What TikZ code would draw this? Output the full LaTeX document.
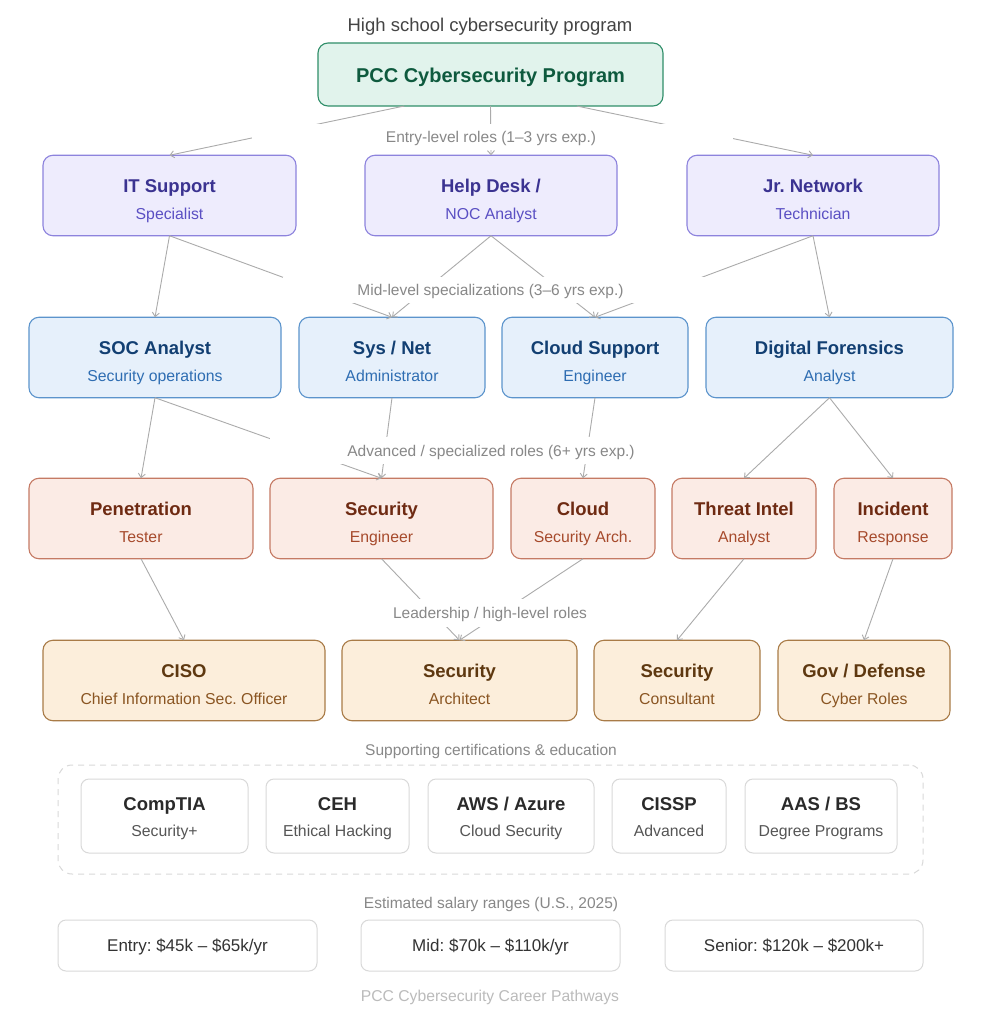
\documentclass[tikz,border=0pt]{standalone}
\usepackage{fontspec}
\setmainfont{Liberation Sans}
\frenchspacing
\usetikzlibrary{arrows.meta,calc}
\definecolor{pccfill}{HTML}{E1F3EC}
\definecolor{pccdraw}{HTML}{2F8E69}
\definecolor{pcct}{HTML}{0E5A3E}
\definecolor{entfill}{HTML}{EEECFD}
\definecolor{entdraw}{HTML}{8D83DD}
\definecolor{entt}{HTML}{3B3391}
\definecolor{ents}{HTML}{5A4FC3}
\definecolor{midfill}{HTML}{E6F0FB}
\definecolor{middraw}{HTML}{5C94CC}
\definecolor{midt}{HTML}{123F72}
\definecolor{mids}{HTML}{2E6DB2}
\definecolor{advfill}{HTML}{FBEBE5}
\definecolor{advdraw}{HTML}{C57A64}
\definecolor{advt}{HTML}{6E2A12}
\definecolor{advs}{HTML}{A64A2C}
\definecolor{ldrfill}{HTML}{FCEEDB}
\definecolor{ldrdraw}{HTML}{A97B47}
\definecolor{ldrt}{HTML}{5E3810}
\definecolor{ldrs}{HTML}{8A5522}
\definecolor{certdraw}{HTML}{D9D9D9}
\definecolor{certt}{HTML}{2A2A2A}
\definecolor{certs}{HTML}{555555}
\definecolor{connc}{HTML}{ABABAB}
\definecolor{lblc}{HTML}{888888}
\definecolor{headc}{HTML}{444444}
\definecolor{footc}{HTML}{BBBBBB}
\definecolor{salt}{HTML}{333333}
\tikzset{
  box/.style={rounded corners=10pt, line width=1.1pt, inner sep=0pt, outer sep=0pt},
  entbox/.style={box, fill=entfill, draw=entdraw},
  midbox/.style={box, fill=midfill, draw=middraw},
  advbox/.style={box, fill=advfill, draw=advdraw},
  ldrbox/.style={box, fill=ldrfill, draw=ldrdraw},
  pccbox/.style={box, fill=pccfill, draw=pccdraw},
  certbox/.style={rounded corners=8pt, line width=1pt, draw=certdraw, fill=white, inner sep=0pt, outer sep=0pt},
  salbox/.style={rounded corners=8pt, line width=1pt, draw=certdraw, fill=white, inner sep=0pt, outer sep=0pt, font=\fontsize{17}{19}\selectfont, text=salt, text height=12.2pt, text depth=0pt},
  ttl/.style={font=\fontsize{18.5}{20}\selectfont\bfseries, text height=13.2pt, text depth=0pt, inner sep=0pt},
  subtxt/.style={font=\fontsize{15.8}{18}\selectfont, text height=11.3pt, text depth=0pt, inner sep=0pt},
  lbl/.style={font=\fontsize{15.5}{18}\selectfont, text=lblc, text height=11.1pt, text depth=0pt, inner sep=0pt},
  mask/.style={fill=white, inner sep=0pt},
  conn/.style={draw=connc, line width=0.9pt, -{Straight Barb[length=4pt,width=7pt]}},
}
\newcommand\mkrole[7]{%
  \node[#5box, minimum width={(#3-#2)*1pt}, minimum height=80.5pt] (#1) at ({(#2+#3)/2},{#4+40.5}) {};
  \node[ttl, text=#5t] (#1-t) at ({(#2+#3)/2},{#4+30.5}) {#6};
  \node[subtxt, text=#5s] (#1-s) at ({(#2+#3)/2},{#4+58.5}) {#7};
}
\newcommand\mkcert[5]{%
  \node[certbox, minimum width={(#3-#2)*1pt}, minimum height=74pt] (#1) at ({(#2+#3)/2},816) {};
  \node[ttl, text=certt] (#1-t) at ({(#2+#3)/2},804) {#4};
  \node[subtxt, text=certs] (#1-s) at ({(#2+#3)/2},831) {#5};
}
\begin{document}
\begin{tikzpicture}[x=1pt,y=-1pt]
\useasboundingbox[fill=white] (0,0) rectangle (981,1024);

\node[font=\fontsize{18.5}{20}\selectfont, text=headc, text height=13.2pt, text depth=0pt, inner sep=0pt] (head) at (490,25) {High school cybersecurity program};

\node[pccbox, minimum width=345pt, minimum height=63pt] (pcc) at (490.5,74.5) {};
\node[font=\fontsize{20}{22}\selectfont\bfseries, text=pcct, text height=14.3pt, text depth=0pt, inner sep=0pt] (pcc-t) at (490.5,75) {PCC Cybersecurity Program};

% entry
\mkrole{it}{43}{296}{155}{ent}{IT Support}{Specialist}
\mkrole{hd}{365}{617}{155}{ent}{Help Desk /}{NOC Analyst}
\mkrole{jn}{687}{939}{155}{ent}{Jr. Network}{Technician}
% mid
\mkrole{soc}{29}{281}{317}{mid}{SOC Analyst}{Security operations}
\mkrole{sys}{299}{485}{317}{mid}{Sys / Net}{Administrator}
\mkrole{cs}{502}{688}{317}{mid}{Cloud Support}{Engineer}
\mkrole{df}{706}{953}{317}{mid}{Digital Forensics}{Analyst}
% advanced
\mkrole{pt}{29}{253}{478}{adv}{Penetration}{Tester}
\mkrole{se}{270}{493}{478}{adv}{Security}{Engineer}
\mkrole{ca}{511}{655}{478}{adv}{Cloud}{Security Arch.}
\mkrole{ti}{672}{816}{478}{adv}{Threat Intel}{Analyst}
\mkrole{ir}{834}{952}{478}{adv}{Incident}{Response}
% leadership
\mkrole{ciso}{43}{325}{640}{ldr}{CISO}{Chief Information Sec. Officer}
\mkrole{sa}{342}{577}{640}{ldr}{Security}{Architect}
\mkrole{sc}{594}{760}{640}{ldr}{Security}{Consultant}
\mkrole{gd}{778}{950}{640}{ldr}{Gov / Defense}{Cyber Roles}

% connectors
\draw[conn] ($(pcc.south west)!0.25!(pcc.south east)$) -- (it.north);
\draw[conn] (pcc.south) -- (hd.north);
\draw[conn] ($(pcc.south west)!0.75!(pcc.south east)$) -- (jn.north);
\draw[conn] (it.south) -- (soc.north);
\draw[conn] (it.south) -- (sys.north);
\draw[conn] (hd.south) -- (sys.north);
\draw[conn] (hd.south) -- (cs.north);
\draw[conn] (jn.south) -- (cs.north);
\draw[conn] (jn.south) -- (df.north);
\draw[conn] (soc.south) -- (pt.north);
\draw[conn] (soc.south) -- (se.north);
\draw[conn] (sys.south) -- (se.north);
\draw[conn] (cs.south) -- (ca.north);
\draw[conn] (df.south) -- (ti.north);
\draw[conn] (df.south) -- (ir.north);
\draw[conn] (pt.south) -- (ciso.north);
\draw[conn] (se.south) -- (sa.north);
\draw[conn] (ca.south) -- (sa.north);
\draw[conn] (ti.south) -- (sc.north);
\draw[conn] (ir.south) -- (gd.north);

% tier labels (white backing boxes, then text)
\node[mask, minimum width=481pt, minimum height=26pt] (m1) at (492.5,137) {};
\node[mask, minimum width=424pt, minimum height=26pt] (m2) at (495,290) {};
\node[mask, minimum width=442pt, minimum height=27pt] (m3) at (491,450.5) {};
\node[mask, minimum width=236pt, minimum height=28pt] (m4) at (490,613) {};
\node[lbl] (l1) at (491,137) {Entry-level roles (1–3 yrs exp.)};
\node[lbl] (l2) at (490.5,290) {Mid-level specializations (3–6 yrs exp.)};
\node[lbl] (l3) at (491,451) {Advanced / specialized roles (6+ yrs exp.)};
\node[lbl] (l4) at (490,613) {Leadership / high-level roles};

% certifications
\node[lbl] (l5) at (491,750) {Supporting certifications \& education};
\node[draw=certdraw, line width=1pt, dash pattern=on 6pt off 5pt, rounded corners=14pt, minimum width=865pt, minimum height=109pt, inner sep=0pt] (cont) at (490.5,819.5) {};
\mkcert{comp}{81}{248}{CompTIA}{Security+}
\mkcert{ceh}{266}{409}{CEH}{Ethical Hacking}
\mkcert{aws}{428}{594}{AWS / Azure}{Cloud Security}
\mkcert{cissp}{612}{726}{CISSP}{Advanced}
\mkcert{aas}{745}{897}{AAS / BS}{Degree Programs}

% salaries
\node[lbl] (l6) at (491,903) {Estimated salary ranges (U.S., 2025)};
\node[salbox, minimum width=259pt, minimum height=51pt] (s1) at (187.5,945.5) {Entry: \$45k – \$65k/yr};
\node[salbox, minimum width=259pt, minimum height=51pt] (s2) at (490.5,945.5) {Mid: \$70k – \$110k/yr};
\node[salbox, minimum width=258pt, minimum height=51pt] (s3) at (794,945.5) {Senior: \$120k – \$200k+};

\node[lbl, text=footc, font=\fontsize{15.7}{18}\selectfont] (foot) at (490,996) {PCC Cybersecurity Career Pathways};
\end{tikzpicture}
\end{document}
